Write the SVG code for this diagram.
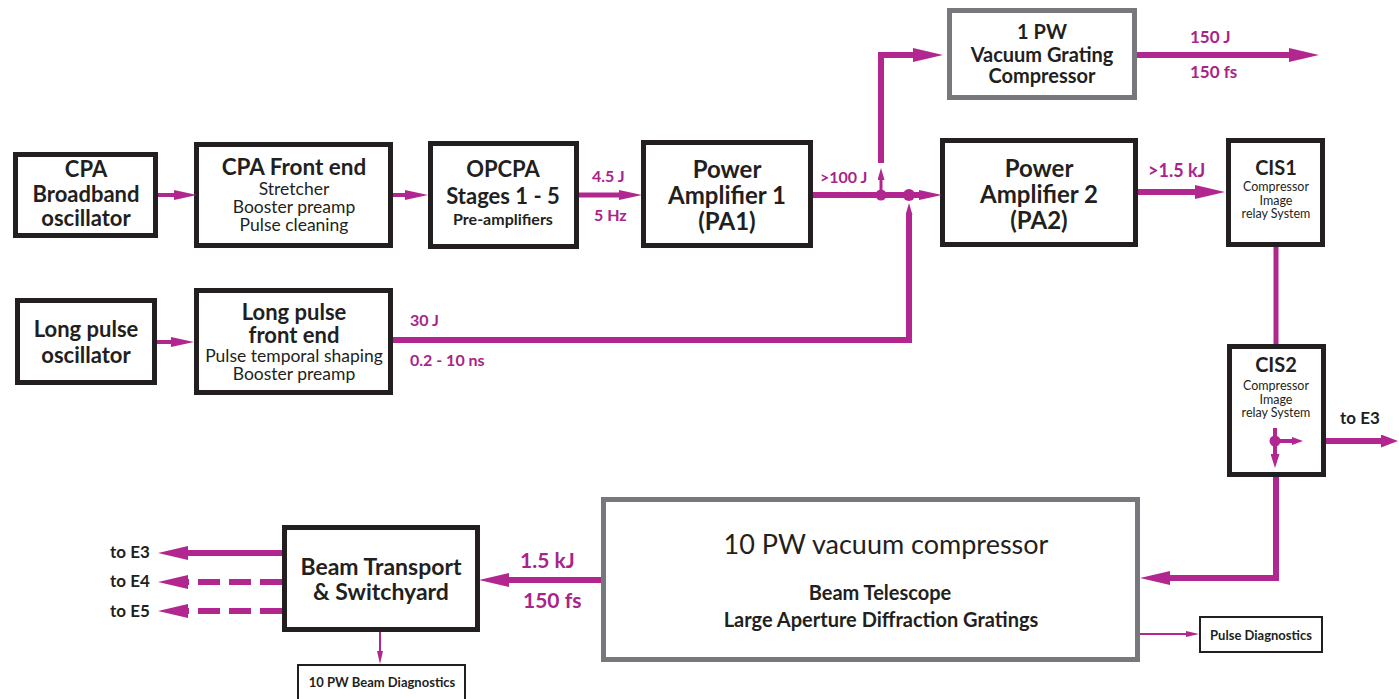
<svg xmlns="http://www.w3.org/2000/svg" width="1399" height="699" viewBox="0 0 1399 699">
<style>
.box{fill:#fff;stroke:#231f20;stroke-width:5}
.gbox{fill:#fff;stroke:#77787b;stroke-width:5}
.tbox{fill:#fff;stroke:#231f20;stroke-width:2}
text{font-family:Lato,"Liberation Sans",sans-serif;fill:#231f20;text-anchor:middle}
.b{font-weight:bold}
.r{font-weight:normal}
.lab{font-weight:bold;fill:#a8248a;text-anchor:start}
.dk{font-weight:bold;fill:#231f20;text-anchor:start}
.ln{fill:none;stroke:#b2278f;stroke-linejoin:miter}
.dot{fill:#b2278f}
</style>
<defs>
<marker id="ahS" markerUnits="userSpaceOnUse" viewBox="0 0 23 10" markerWidth="23" markerHeight="10" refX="2" refY="5" orient="auto"><path d="M0,0 L23,5 L0,10 z" fill="#b2278f"/></marker>
<marker id="ahB" markerUnits="userSpaceOnUse" viewBox="0 0 30 14" markerWidth="30" markerHeight="14" refX="2" refY="7" orient="auto"><path d="M0,0 L30,7 L0,14 z" fill="#b2278f"/></marker>
<marker id="ahU" markerUnits="userSpaceOnUse" viewBox="0 0 12 7" markerWidth="12" markerHeight="7" refX="2" refY="3.5" orient="auto"><path d="M0,0 L12,3.5 L0,7 z" fill="#b2278f"/></marker>
<marker id="ahD" markerUnits="userSpaceOnUse" viewBox="0 0 14 9" markerWidth="14" markerHeight="9" refX="2" refY="4.5" orient="auto"><path d="M0,0 L14,4.5 L0,9 z" fill="#b2278f"/></marker>
<marker id="ahR" markerUnits="userSpaceOnUse" viewBox="0 0 11 8" markerWidth="11" markerHeight="8" refX="2" refY="4" orient="auto"><path d="M0,0 L11,4 L0,8 z" fill="#b2278f"/></marker>
<marker id="ahE" markerUnits="userSpaceOnUse" viewBox="0 0 17 13" markerWidth="17" markerHeight="13" refX="2" refY="6.5" orient="auto"><path d="M0,0 L17,6.5 L0,13 z" fill="#b2278f"/></marker>
<marker id="ahT" markerUnits="userSpaceOnUse" viewBox="0 0 13 6" markerWidth="13" markerHeight="6" refX="2" refY="3" orient="auto"><path d="M0,0 L13,3 L0,6 z" fill="#b2278f"/></marker>
</defs>
<rect width="1399" height="699" fill="#fff"/>

<g id="cpa-osc">
<rect class="box" x="15.5" y="154.5" width="140" height="81"/>
<text class="b" font-size="22" x="86" y="177">CPA</text>
<text class="b" font-size="22" x="86" y="202">Broadband</text>
<text class="b" font-size="22" x="86" y="226">oscillator</text>
</g>

<g id="cpa-fe">
<rect class="box" x="196.5" y="144.5" width="194" height="101"/>
<text class="b" font-size="22.5" x="294" y="175">CPA Front end</text>
<text class="r" font-size="17.5" x="294" y="195">Stretcher</text>
<text class="r" font-size="17.5" x="294" y="213">Booster preamp</text>
<text class="r" font-size="17.5" x="294" y="231">Pulse cleaning</text>
</g>

<g id="opcpa">
<rect class="box" x="430.5" y="143.5" width="146" height="103"/>
<text class="b" font-size="22" x="503" y="177">OPCPA</text>
<text class="b" font-size="22" x="503" y="204">Stages 1 - 5</text>
<text class="b" font-size="16" x="503" y="225">Pre-amplifiers</text>
</g>

<g id="pa1">
<rect class="box" x="643.5" y="142.5" width="167" height="103"/>
<text class="b" font-size="24" x="727" y="178">Power</text>
<text class="b" font-size="24" x="727" y="204">Amplifier 1</text>
<text class="b" font-size="24" x="727" y="230">(PA1)</text>
</g>

<g id="vgc">
<rect class="gbox" x="949.5" y="10.5" width="185" height="87"/>
<text class="b" font-size="20" x="1042" y="39">1 PW</text>
<text class="b" font-size="20" x="1042" y="62">Vacuum Grating</text>
<text class="b" font-size="20" x="1042" y="83">Compressor</text>
</g>

<g id="pa2">
<rect class="box" x="942.5" y="140.5" width="193" height="104"/>
<text class="b" font-size="24" x="1039" y="177">Power</text>
<text class="b" font-size="24" x="1039" y="203">Amplifier 2</text>
<text class="b" font-size="24" x="1039" y="229">(PA2)</text>
</g>

<g id="cis1">
<rect class="box" x="1228.5" y="140.5" width="94" height="104"/>
<text class="b" font-size="20" x="1276" y="175">CIS1</text>
<text class="r" font-size="12.5" x="1276" y="191">Compressor</text>
<text class="r" font-size="12.5" x="1276" y="204.5">Image</text>
<text class="r" font-size="12.5" x="1276" y="218">relay System</text>
</g>

<g id="cis2">
<rect class="box" x="1229.5" y="346.5" width="94" height="128"/>
<text class="b" font-size="20" x="1276" y="372">CIS2</text>
<text class="r" font-size="12.5" x="1276" y="390">Compressor</text>
<text class="r" font-size="12.5" x="1276" y="403.5">Image</text>
<text class="r" font-size="12.5" x="1276" y="417">relay System</text>
</g>

<g id="lp-osc">
<rect class="box" x="17.5" y="300.5" width="137" height="82"/>
<text class="b" font-size="22" x="86" y="337">Long pulse</text>
<text class="b" font-size="22" x="86" y="363">oscillator</text>
</g>

<g id="lp-fe">
<rect class="box" x="196.5" y="290.5" width="194" height="102"/>
<text class="b" font-size="22" x="294" y="320">Long pulse</text>
<text class="b" font-size="22" x="294" y="343">front end</text>
<text class="r" font-size="17.5" x="294" y="362">Pulse temporal shaping</text>
<text class="r" font-size="17.5" x="294" y="380">Booster preamp</text>
</g>

<g id="compressor">
<rect class="gbox" x="603.5" y="499.5" width="534" height="160"/>
<text class="r" font-size="27" x="886" y="554">10 PW vacuum compressor</text>
<text class="b" font-size="20" x="880" y="600">Beam Telescope</text>
<text class="b" font-size="20" x="881" y="627">Large Aperture Diffraction Gratings</text>
</g>

<g id="beam-transport">
<rect class="box" x="284.5" y="527.5" width="193" height="102"/>
<text class="b" font-size="23" x="381" y="575">Beam Transport</text>
<text class="b" font-size="23" x="381" y="600">&amp; Switchyard</text>
</g>

<g id="beam-diag">
<rect class="tbox" x="298" y="665" width="167" height="50"/>
<text class="b" font-size="13" x="382" y="687">10 PW Beam Diagnostics</text>
</g>

<g id="pulse-diag">
<rect class="tbox" x="1200" y="617" width="122" height="35"/>
<text class="b" font-size="13" x="1261" y="640">Pulse Diagnostics</text>
</g>

<g id="connectors">
<path class="ln" d="M158,195 H176" stroke-width="4" marker-end="url(#ahS)"/>
<path class="ln" d="M393,195 H407" stroke-width="4" marker-end="url(#ahS)"/>
<path class="ln" d="M157,342 H173" stroke-width="4" marker-end="url(#ahS)"/>
<path class="ln" d="M579,195 H621" stroke-width="5" marker-end="url(#ahS)"/>
<path class="ln" d="M813,195 H921" stroke-width="6" marker-end="url(#ahS)"/>
<path class="ln" d="M881,195 V178" stroke-width="3" marker-end="url(#ahU)"/>
<path class="ln" d="M881,163 V55 H915" stroke-width="6" marker-end="url(#ahB)"/>
<path class="ln" d="M1137,55 H1291" stroke-width="6" marker-end="url(#ahB)"/>
<path class="ln" d="M1138,192 H1197" stroke-width="6" marker-end="url(#ahB)"/>
<path class="ln" d="M393,340 H909 V213" stroke-width="6" marker-end="url(#ahU)"/>
<circle class="dot" cx="881" cy="195" r="5.5"/>
<circle class="dot" cx="909" cy="195" r="6"/>
<path class="ln" d="M1276,247 V344" stroke-width="5"/>
<path class="ln" d="M1275,428 V456" stroke-width="4" marker-end="url(#ahD)"/>
<path class="ln" d="M1275,441 H1294" stroke-width="4" marker-end="url(#ahR)"/>
<circle class="dot" cx="1275" cy="441" r="5.5"/>
<path class="ln" d="M1326,441 H1383" stroke-width="6" marker-end="url(#ahE)"/>
<path class="ln" d="M1276,477 V578 H1168" stroke-width="6" marker-end="url(#ahB)"/>
<path class="ln" d="M601,580 H507" stroke-width="6" marker-end="url(#ahB)"/>
<path class="ln" d="M282,553 H186" stroke-width="6" marker-end="url(#ahB)"/>
<path class="ln" d="M282,582 H186" stroke-width="6" stroke-dasharray="22 9" marker-end="url(#ahB)"/>
<path class="ln" d="M282,611 H186" stroke-width="6" stroke-dasharray="22 9" marker-end="url(#ahB)"/>
<path class="ln" d="M380,632 V653" stroke-width="2" marker-end="url(#ahT)"/>
<path class="ln" d="M1140,634 H1188" stroke-width="2" marker-end="url(#ahT)"/>
</g>

<g id="labels">
<text class="lab" x="592" y="182" font-size="16">4.5 J</text>
<text class="lab" x="594" y="221" font-size="16">5 Hz</text>
<text class="lab" x="820" y="183" font-size="16">&gt;100 J</text>
<text class="lab" x="1190" y="43" font-size="17">150 J</text>
<text class="lab" x="1190" y="78" font-size="17">150 fs</text>
<text class="lab" x="1148" y="177" font-size="18">&gt;1.5 kJ</text>
<text class="lab" x="410" y="326" font-size="16">30 J</text>
<text class="lab" x="410" y="366" font-size="16">0.2 - 10 ns</text>
<text class="lab" x="520" y="568" font-size="21">1.5 kJ</text>
<text class="lab" x="523" y="608" font-size="21">150 fs</text>
<text class="dk" x="110" y="558" font-size="17">to E3</text>
<text class="dk" x="110" y="587" font-size="17">to E4</text>
<text class="dk" x="110" y="617" font-size="17">to E5</text>
<text class="dk" x="1340" y="424" font-size="17">to E3</text>
</g>
</svg>
